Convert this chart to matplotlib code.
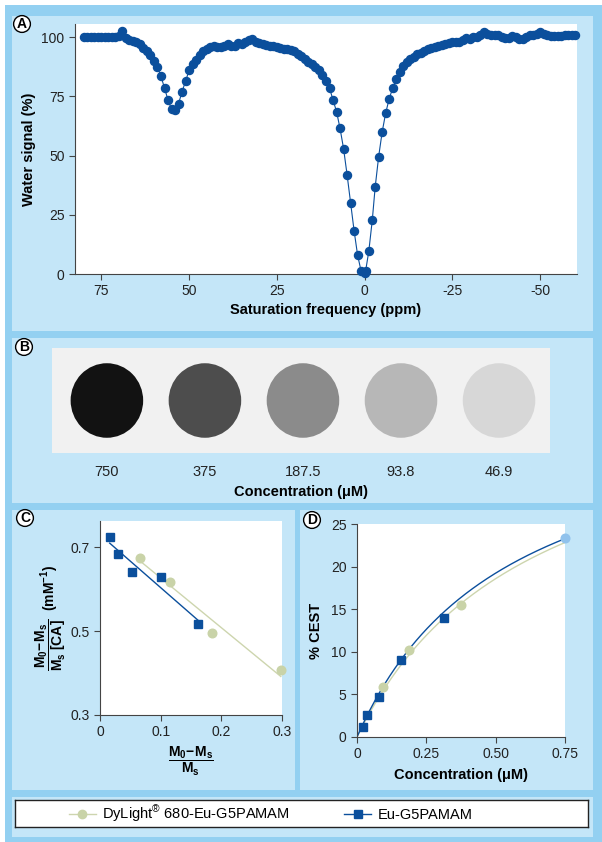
import numpy as np
import matplotlib
matplotlib.use("Agg")
import matplotlib.pyplot as plt
from matplotlib.patches import Rectangle, Ellipse
from matplotlib.lines import Line2D

plt.rcParams['font.family'] = ['Liberation Sans', 'DejaVu Sans']
plt.rcParams['axes.unicode_minus'] = False
plt.rcParams['mathtext.fontset'] = 'custom'
plt.rcParams['mathtext.rm'] = 'Liberation Sans'
plt.rcParams['mathtext.bf'] = 'Liberation Sans:bold'
plt.rcParams['mathtext.it'] = 'Liberation Sans:italic'
plt.rcParams['mathtext.sf'] = 'Liberation Sans'

# ---------------- data ----------------
# Panel A: Z-spectrum
a_freq = [80, 79, 78, 77, 76, 75, 74, 73, 72, 71, 70, 69, 68, 67, 66, 65, 64, 63, 62, 61,
          60, 59, 58, 57, 56, 55, 54, 53, 52, 51, 50, 49, 48, 47, 46, 45, 44, 43, 42, 41,
          40, 39, 38, 37, 36, 35, 34, 33, 32, 31, 30, 29, 28, 27, 26, 25, 24, 23, 22, 21,
          20, 19, 18, 17, 16, 15, 14, 13, 12, 11, 10, 9, 8, 7, 6, 5, 4, 3, 2, 1,
          0, -0.3, -1.2, -2.2, -3, -4, -5, -6, -7, -8, -9, -10, -11, -12, -13, -14, -15, -16, -17, -18,
          -19, -20, -21, -22, -23, -24, -25, -26, -27, -28, -29, -30, -31, -32, -33, -34, -35, -36, -37, -38,
          -39, -40, -41, -42, -43, -44, -45, -46, -47, -48, -49, -50, -51, -52, -53, -54, -55, -56, -57, -58,
          -59, -60]
a_signal = [100, 100, 100, 100, 100, 100, 100, 100, 100, 100, 100.5, 102.5, 99.5, 99, 98.5, 98, 97, 95.5, 94, 92.5,
            90, 87.5, 83.5, 78.5, 73.5, 69.5, 69.3, 72, 77, 81.5, 86, 88.5, 90.5, 92.5, 94, 95, 95.8, 96.3, 96, 96,
            96.5, 97, 96.5, 96.5, 97.5, 97, 98, 98.8, 99.2, 98, 97.5, 97.2, 96.8, 96.5, 96.2, 96, 95.5, 95.2, 95, 94.5,
            94, 93, 92, 91, 89.5, 88.5, 87.5, 86, 84, 81.5, 78.5, 73.5, 68.6, 61.5, 53, 42, 30, 18.3, 8, 1.2,
            0.6, 1.4, 9.7, 23, 36.6, 49.6, 60, 68, 74, 78.5, 82.5, 85.5, 88, 89.5, 90.8, 91.8, 92.8, 93.5, 94.2, 95,
            95.5, 96, 96.3, 96.8, 97.2, 97.5, 97.8, 98.2, 97.8, 98.8, 99.5, 99.3, 100.2, 100, 100.8, 102.2, 101.5, 101, 100.8, 101,
            100.3, 99.8, 99.5, 100.6, 100, 99.3, 99.2, 100.3, 100.8, 101, 101.2, 102.3, 101.2, 100.8, 100.5, 100.5, 100.5, 100.7, 100.8, 101,
            101, 101]

# Panel B: phantom concentrations and grey level of each vial
b_conc_labels = ['750', '375', '187.5', '93.8', '46.9']
b_grey = ['#121212', '#4d4d4d', '#8b8b8b', '#b7b7b7', '#d7d7d7']

# Panel C
c_dy_x = [0.066, 0.116, 0.184, 0.298]
c_dy_y = [0.675, 0.617, 0.495, 0.406]
c_eu_x = [0.016, 0.030, 0.052, 0.100, 0.162]
c_eu_y = [0.724, 0.683, 0.640, 0.629, 0.517]

# Panel D
d_dy_x = [0.095, 0.187, 0.376]
d_dy_y = [5.9, 10.2, 15.5]
d_top_x = [0.75]
d_top_y = [23.3]
d_eu_x = [0.023, 0.037, 0.081, 0.157, 0.313]
d_eu_y = [1.2, 2.55, 4.75, 9.0, 14.0]
d_eu_fit = (40.2, 0.545)   # (max, half-saturation) of fitted curve
d_dy_fit = (42.0, 0.63)

legend_labels = [r'DyLight$^{\mathrm{®}}$ 680-Eu-G5PAMAM', 'Eu-G5PAMAM']

# ---------------- style ----------------
BLUE = '#0b4f9c'
GREEN = '#c9d3a8'
GREEN_LINE = '#cdd5ae'
LIGHTBLUE_PT = '#90c2ec'
MED = '#93d0f1'
LIGHT = '#c4e6f8'
SPINE = '#444444'

W, H = 602, 842
fig = plt.figure(figsize=(W / 100, H / 100), dpi=100, facecolor='white')


def rect(l, t, r, b, color, z=-10):
    fig.add_artist(Rectangle((l / W, 1 - b / H), (r - l) / W, (b - t) / H,
                             transform=fig.transFigure, fc=color, ec='none', zorder=z))


def px_axes(l, t, r, b):
    return fig.add_axes([l / W, 1 - b / H, (r - l) / W, (b - t) / H])


def circ_label(x, y, s):
    fig.text(x / W, 1 - y / H, s, ha='center', va='center', fontsize=10, fontweight='bold',
             bbox=dict(boxstyle='circle,pad=0.1', fc='white', ec='black', lw=1.0), zorder=5)


def style_axes(ax):
    for s in ['top', 'right']:
        ax.spines[s].set_visible(False)
    for s in ['left', 'bottom']:
        ax.spines[s].set_color(SPINE)
        ax.spines[s].set_linewidth(0.8)
    ax.tick_params(direction='out', length=4, width=0.8, color=SPINE, labelsize=10,
                   labelcolor='#222222')


# backgrounds
rect(5, 5, 602, 842, MED, z=-20)
rect(12, 16, 593, 331, LIGHT)
rect(12, 338, 593, 503, LIGHT)
rect(12, 510, 295, 790, LIGHT)
rect(300, 510, 593, 790, LIGHT)
rect(12, 797, 593, 837, LIGHT)

# ---------------- Panel A ----------------
axA = px_axes(75, 24, 577, 274)
style_axes(axA)
axA.plot(a_freq, a_signal, color=BLUE, lw=0.8, marker='o', ms=5.8, mec=BLUE, mfc=BLUE,
         clip_on=False, zorder=3)
axA.set_xlim(82.5, -60.5)
axA.set_ylim(0, 105.6)
axA.set_xticks([75, 50, 25, 0, -25, -50])
axA.set_yticks([0, 25, 50, 75, 100])
axA.set_xlabel('Saturation frequency (ppm)', fontsize=10.5, fontweight='bold', labelpad=3)
axA.set_ylabel('Water signal (%)', fontsize=10.5, fontweight='bold', labelpad=4)
circ_label(22, 24, 'A')

# ---------------- Panel B ----------------
axB = px_axes(52, 348, 550, 453)
axB.set_facecolor('#f1f1f1')
for s in axB.spines.values():
    s.set_visible(False)
for i, g in enumerate(b_grey):
    axB.add_patch(Ellipse((i, 0.5), 0.74, 0.71, fc=g, ec='none', zorder=3))
axB.set_xlim(-0.56, 4.52)
axB.set_ylim(0, 1)
axB.set_yticks([])
axB.set_xticks(range(len(b_conc_labels)))
axB.set_xticklabels(b_conc_labels)
axB.tick_params(axis='x', length=0, pad=9, labelsize=10.5, labelcolor='#222222')
axB.set_xlabel('Concentration (μM)', fontsize=10.5, fontweight='bold', labelpad=4)
circ_label(24, 347, 'B')

# ---------------- Panel C ----------------
axC = px_axes(100, 521, 282, 715)
style_axes(axC)
for xs, ys, col, lcol, mk in [(c_dy_x, c_dy_y, GREEN, GREEN_LINE, 'o'),
                              (c_eu_x, c_eu_y, BLUE, BLUE, 's')]:
    k, b0 = np.polyfit(xs, ys, 1)
    xx = np.array([min(xs), max(xs)])
    axC.plot(xx, k * xx + b0, color=lcol, lw=1.0, zorder=2)
    axC.plot(xs, ys, ls='none', marker=mk, ms=6.2 if mk == 'o' else 6.0, mfc=col, mec=col,
             zorder=3, clip_on=False)
axC.set_xlim(0, 0.3)
axC.set_ylim(0.3, 0.762)
axC.set_xticks([0, 0.1, 0.2, 0.3])
axC.set_xticklabels(['0', '0.1', '0.2', '0.3'])
axC.set_yticks([0.3, 0.5, 0.7])
axC.set_yticklabels(['0.3', '0.5', '0.7'])
axC.set_xlabel(r'$\mathbf{\dfrac{M_0\!-\!M_s}{M_s}}$', fontsize=10, labelpad=4)
axC.set_ylabel(r'$\mathbf{\dfrac{M_0\!-\!M_s}{M_s\ [CA]}}$  $\mathbf{(mM^{-1})}$', fontsize=10, labelpad=2)
circ_label(25, 518, 'C')

# ---------------- Panel D ----------------
axD = px_axes(357, 524, 565, 737)
style_axes(axD)
xf = np.linspace(0, 0.75, 300)
for (ym, kk), col in [(d_dy_fit, GREEN_LINE), (d_eu_fit, BLUE)]:
    axD.plot(xf, ym * xf / (kk + xf), color=col, lw=1.0, zorder=2)
axD.plot(d_dy_x, d_dy_y, ls='none', marker='o', ms=6.2, mfc=GREEN, mec=GREEN, zorder=3)
axD.plot(d_top_x, d_top_y, ls='none', marker='o', ms=6.2, mfc=LIGHTBLUE_PT, mec=LIGHTBLUE_PT,
         zorder=3, clip_on=False)
axD.plot(d_eu_x, d_eu_y, ls='none', marker='s', ms=6.0, mfc=BLUE, mec=BLUE, zorder=4)
axD.set_xlim(0, 0.75)
axD.set_ylim(0, 25)
axD.set_xticks([0, 0.25, 0.5, 0.75])
axD.set_xticklabels(['0', '0.25', '0.50', '0.75'])
axD.set_yticks([0, 5, 10, 15, 20, 25])
axD.set_xlabel('Concentration (μM)', fontsize=10.5, fontweight='bold', labelpad=5)
axD.set_ylabel('% CEST', fontsize=10.5, fontweight='bold', labelpad=6)
circ_label(312, 520, 'D')

# ---------------- Legend ----------------
axL = px_axes(15, 800, 588, 827)
axL.set_facecolor('white')
axL.set_xticks([])
axL.set_yticks([])
for s in axL.spines.values():
    s.set_color('#222222')
    s.set_linewidth(1.0)
handles = [Line2D([], [], color=GREEN_LINE, lw=1.0, marker='o', ms=6, mfc=GREEN, mec=GREEN),
           Line2D([], [], color=BLUE, lw=1.0, marker='s', ms=6, mfc=BLUE, mec=BLUE)]
axL.legend(handles, legend_labels, ncol=2, loc='center left', bbox_to_anchor=(0.094, 0.5),
           frameon=False, fontsize=10.5, handlelength=1.85, handletextpad=0.42,
           columnspacing=3.75, borderpad=0, borderaxespad=0)

fig.savefig('out.png', dpi=100, facecolor='white')
